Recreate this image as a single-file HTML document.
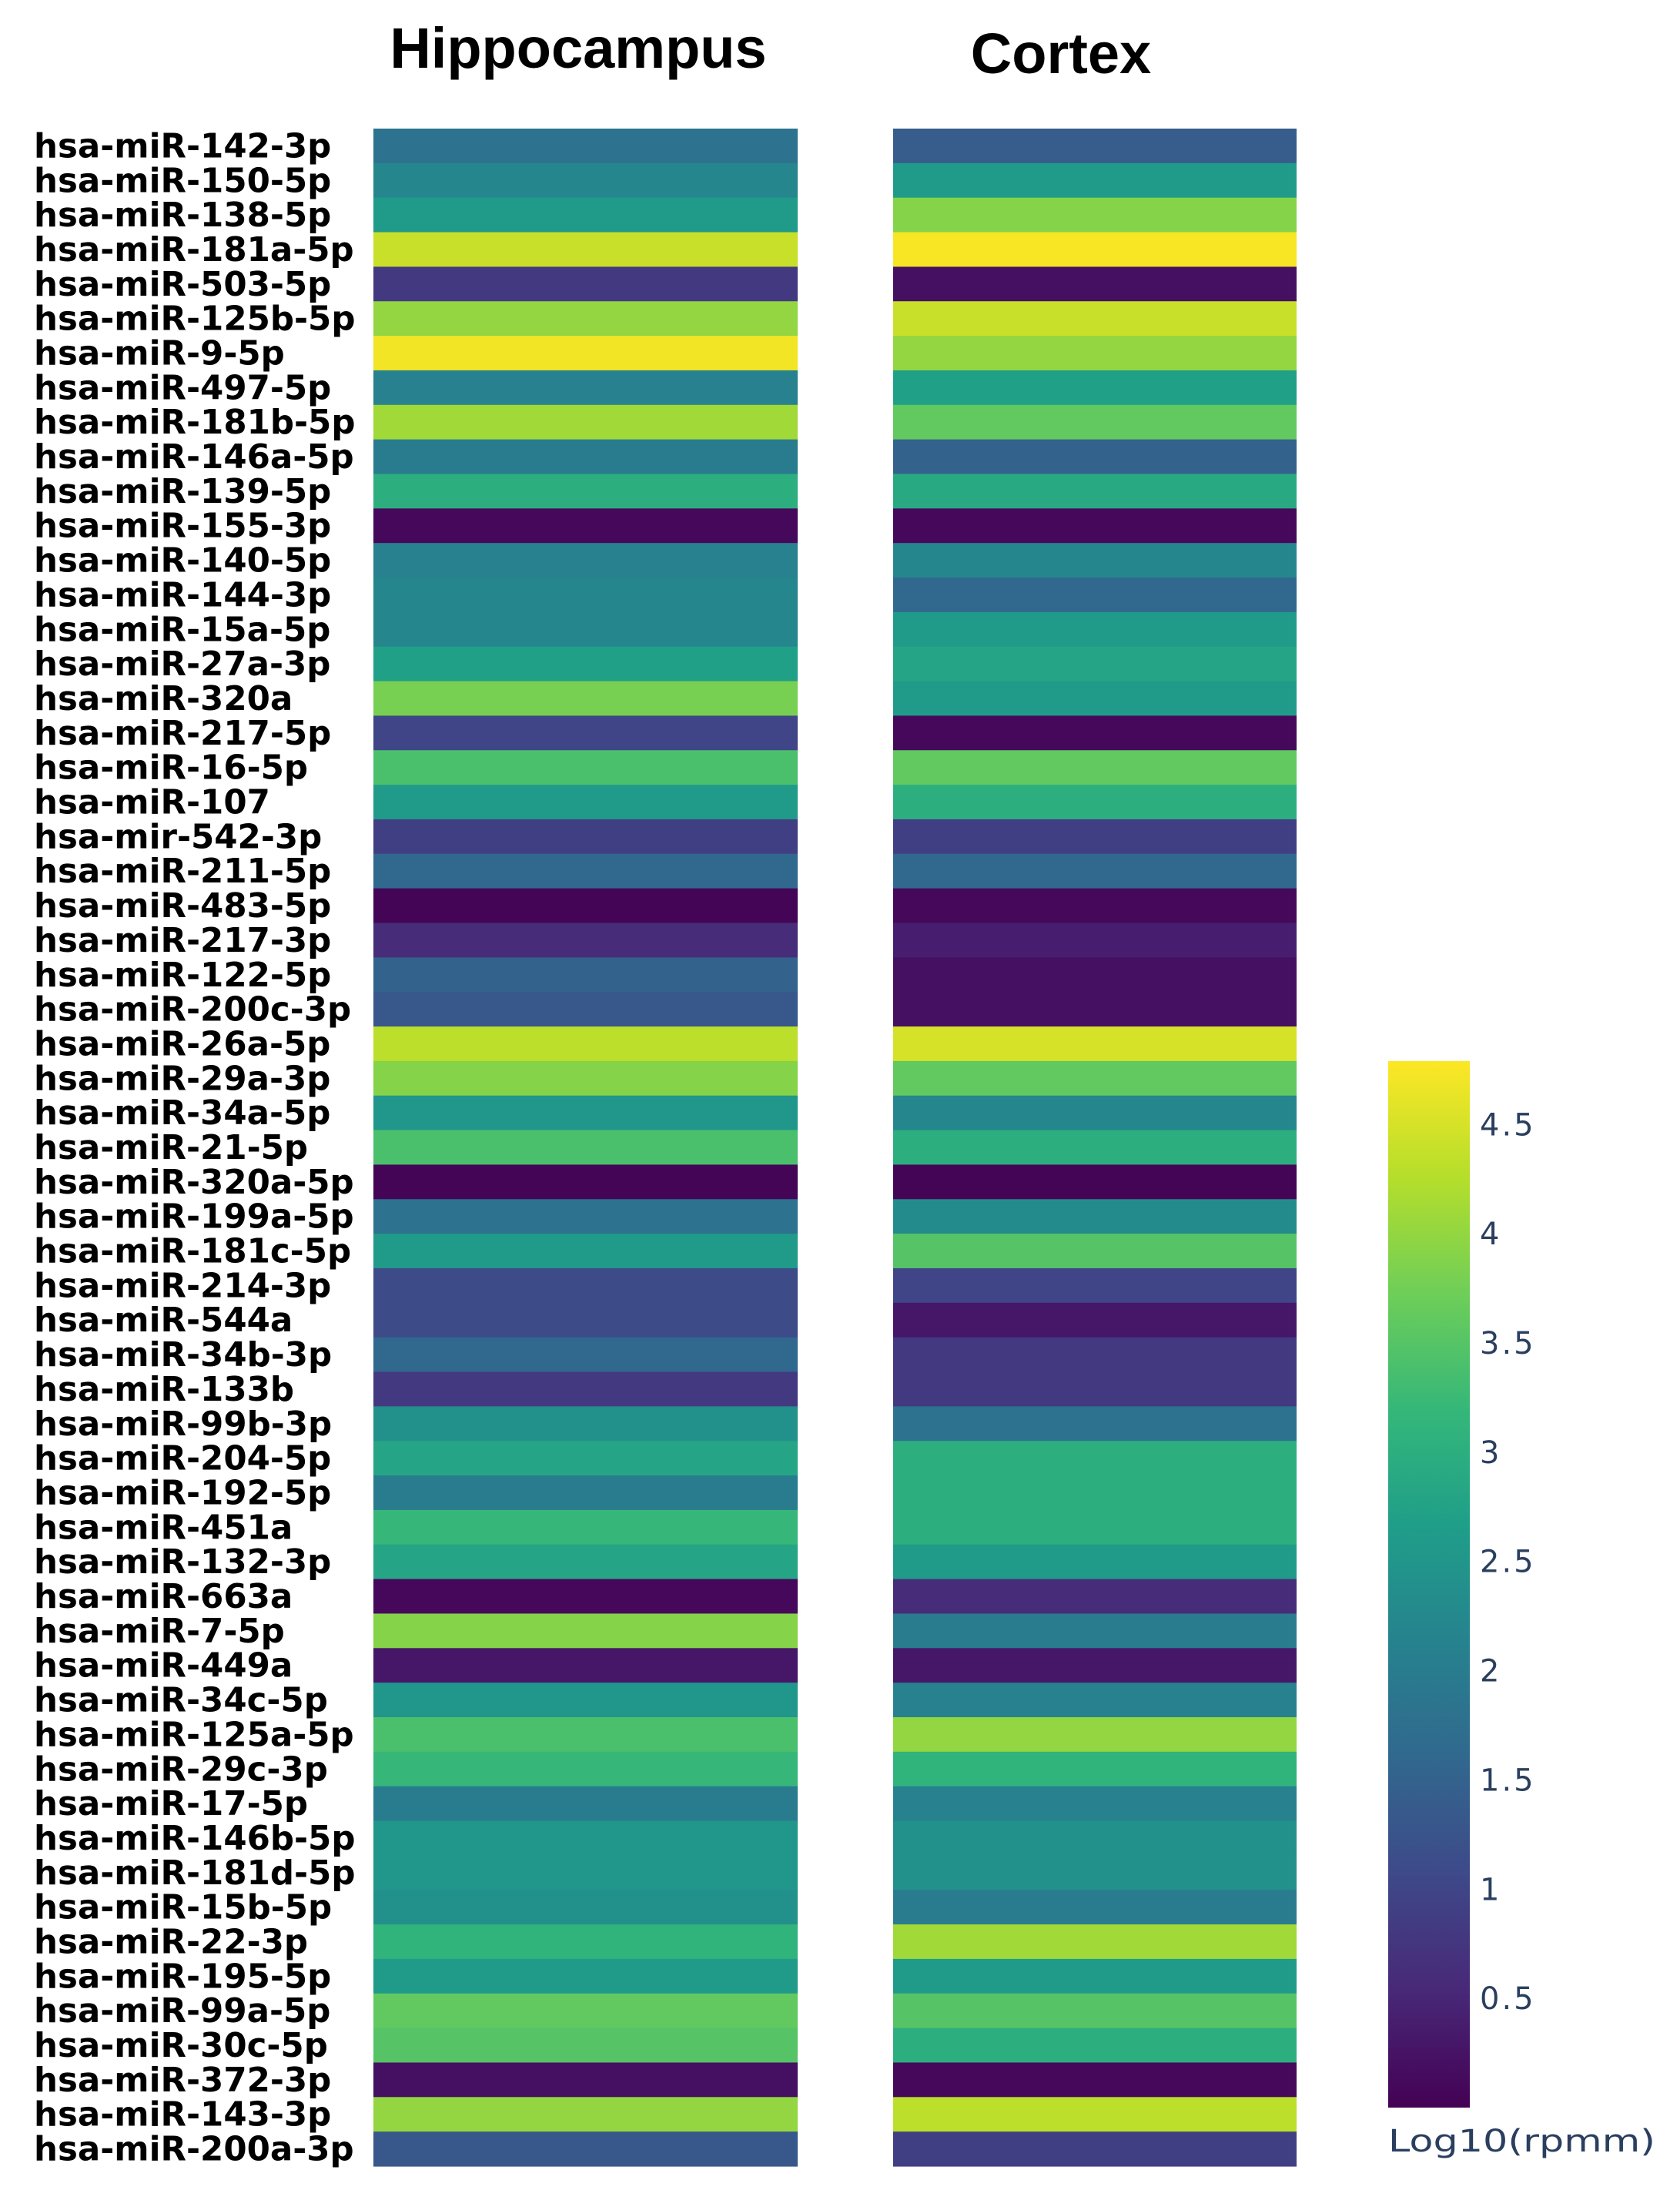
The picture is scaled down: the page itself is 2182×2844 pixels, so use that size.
<!DOCTYPE html>
<html><head><meta charset="utf-8"><style>html,body{margin:0;padding:0;background:#fff}svg{display:block}</style></head>
<body>
<svg id="chart" xmlns="http://www.w3.org/2000/svg" width="2182" height="2844" viewBox="0 0 2182 2844">
<defs><linearGradient id="cbgrad" x1="0" y1="1" x2="0" y2="0"></linearGradient></defs>
<text x="751" y="88" text-anchor="middle" font-family="Liberation Sans, sans-serif" font-weight="bold" font-size="74">Hippocampus</text>
<text x="1378" y="95" text-anchor="middle" font-family="Liberation Sans, sans-serif" font-weight="bold" font-size="74">Cortex</text>
<g id="labels"></g><g id="hipp"></g><g id="cort"></g><g id="cbar"></g>
</svg>
<script>
const mirnas = ["hsa-miR-142-3p","hsa-miR-150-5p","hsa-miR-138-5p","hsa-miR-181a-5p","hsa-miR-503-5p","hsa-miR-125b-5p","hsa-miR-9-5p","hsa-miR-497-5p","hsa-miR-181b-5p","hsa-miR-146a-5p","hsa-miR-139-5p","hsa-miR-155-3p","hsa-miR-140-5p","hsa-miR-144-3p","hsa-miR-15a-5p","hsa-miR-27a-3p","hsa-miR-320a","hsa-miR-217-5p","hsa-miR-16-5p","hsa-miR-107","hsa-mir-542-3p","hsa-miR-211-5p","hsa-miR-483-5p","hsa-miR-217-3p","hsa-miR-122-5p","hsa-miR-200c-3p","hsa-miR-26a-5p","hsa-miR-29a-3p","hsa-miR-34a-5p","hsa-miR-21-5p","hsa-miR-320a-5p","hsa-miR-199a-5p","hsa-miR-181c-5p","hsa-miR-214-3p","hsa-miR-544a","hsa-miR-34b-3p","hsa-miR-133b","hsa-miR-99b-3p","hsa-miR-204-5p","hsa-miR-192-5p","hsa-miR-451a","hsa-miR-132-3p","hsa-miR-663a","hsa-miR-7-5p","hsa-miR-449a","hsa-miR-34c-5p","hsa-miR-125a-5p","hsa-miR-29c-3p","hsa-miR-17-5p","hsa-miR-146b-5p","hsa-miR-181d-5p","hsa-miR-15b-5p","hsa-miR-22-3p","hsa-miR-195-5p","hsa-miR-99a-5p","hsa-miR-30c-5p","hsa-miR-372-3p","hsa-miR-143-3p","hsa-miR-200a-3p"];
const hippocampus = [1.8,2.2,2.6,4.4,0.8,4.0,4.7,2.1,4.1,2.0,3.0,0.1,2.1,2.2,2.2,2.7,3.8,1.0,3.4,2.6,0.9,1.6,0.05,0.6,1.5,1.3,4.3,3.9,2.5,3.4,0.05,1.8,2.6,1.1,1.1,1.6,0.8,2.4,2.8,2.0,3.2,2.8,0.1,3.9,0.3,2.5,3.4,3.2,2.0,2.5,2.5,2.4,3.1,2.6,3.6,3.5,0.2,4.0,1.3];
const cortex = [1.4,2.6,3.9,4.75,0.2,4.4,4.0,2.7,3.6,1.5,2.9,0.1,2.2,1.6,2.6,2.8,2.6,0.1,3.6,3.0,0.9,1.6,0.1,0.4,0.2,0.2,4.5,3.6,2.2,3.0,0.05,2.3,3.5,1.0,0.3,0.8,0.8,1.8,3.0,3.0,3.0,2.6,0.6,2.0,0.3,2.1,4.0,3.1,2.1,2.4,2.4,2.0,4.1,2.6,3.5,3.0,0.1,4.3,0.9];
const cbTicks = [0.5,1,1.5,2,2.5,3,3.5,4,4.5];
const cbTickLabels = ["0.5","1","1.5","2","2.5","3","3.5","4","4.5"];
const zmin = 0, zmax = 4.79;

const NS="http://www.w3.org/2000/svg";
const vir=[[68,1,84],[72,40,120],[62,73,137],[49,104,142],[38,130,142],[31,158,137],[53,183,121],[110,206,88],[181,222,43],[253,231,37]];
function color(v){let t=Math.max(0,Math.min(1,(v-zmin)/(zmax-zmin)))*(vir.length-1);let i=Math.min(vir.length-2,Math.floor(t)),f=t-i;
const c=vir[i].map((a,k)=>Math.round(a+(vir[i+1][k]-a)*f));return `rgb(${c[0]},${c[1]},${c[2]})`;}
const rowTop=167,rowBottom=2813,rowH=(rowBottom-rowTop)/mirnas.length;
const yRow=i=>rowTop+i*rowH;
function mk(tag,attrs,parent){const e=document.createElementNS(NS,tag);for(const k in attrs)e.setAttribute(k,attrs[k]);parent.appendChild(e);return e;}
const labels=document.getElementById('labels');
mirnas.forEach((m,i)=>{const t=mk('text',{x:44,y:yRow(i)+rowH/2+15,'font-family':'DejaVu Sans, sans-serif','font-weight':'bold','font-size':43.5},labels);


t.textContent=m;});
function drawCol(g,vals,x0,x1){vals.forEach((v,i)=>{const r=mk('rect',{x:x0,y:yRow(i),width:x1-x0,height:rowH+0.6,fill:color(v)},g);

});}
drawCol(document.getElementById('hipp'),hippocampus,485,1036);
drawCol(document.getElementById('cort'),cortex,1160,1684);
const grad=document.getElementById('cbgrad');
vir.forEach((c,i)=>mk('stop',{offset:i/(vir.length-1),'stop-color':`rgb(${c[0]},${c[1]},${c[2]})`},grad));
const cb=document.getElementById('cbar');
const cbTop=1378,cbBot=2737,cbX=1803,cbW=106;
const cbY=v=>cbBot-(v-zmin)/(zmax-zmin)*(cbBot-cbTop);
const bar=mk('rect',{x:cbX,y:cbTop,width:cbW,height:cbBot-cbTop,fill:'url(#cbgrad)'},cb);


cbTicks.forEach((v,i)=>{const t=mk('text',{x:1922,y:cbY(v)+14,'font-family':'DejaVu Sans, sans-serif','font-size':40,fill:'#2a3f5f','letter-spacing':'3'},cb);


t.textContent=cbTickLabels[i];});
const ct=mk('text',{x:1803,y:2794,'font-family':'DejaVu Sans, sans-serif','font-size':40,fill:'#2a3f5f',textLength:347,lengthAdjust:'spacingAndGlyphs'},cb);


ct.textContent='Log10(rpmm)';
</script>
</body></html>
